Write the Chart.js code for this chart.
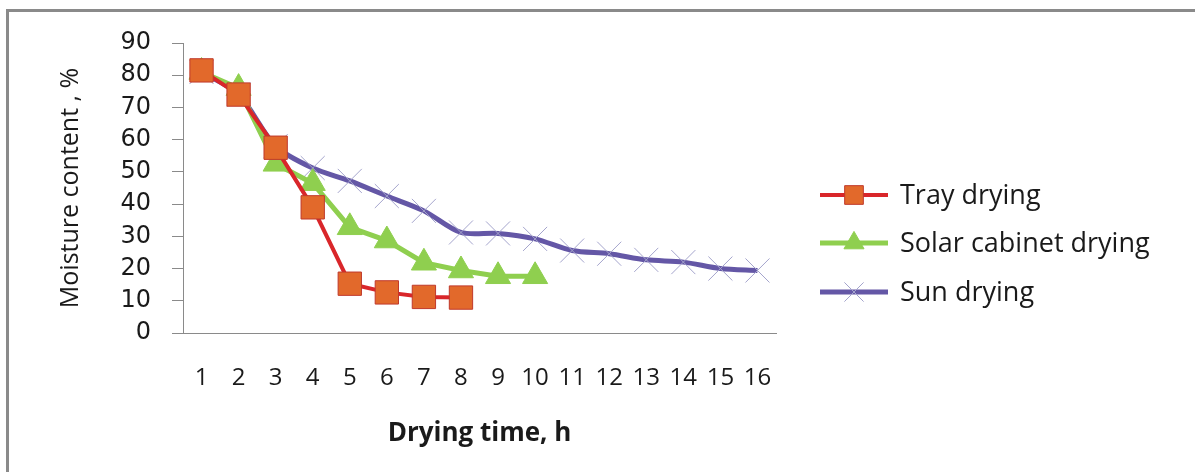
<!DOCTYPE html>
<html>
<head>
<meta charset="utf-8">
<script src="https://cdn.jsdelivr.net/npm/chart.js@4.4.1/dist/chart.umd.min.js"></script>
<style>
  html, body { margin: 0; padding: 0; background: #fff; overflow: hidden; }
  /* cadre gris (seuls les bords haut et gauche sont visibles) */
  #cadre { position: absolute; left: 6px; top: 9px; width: 1300px; height: 600px;
           border-left: 3px solid #8a8a8a; border-top: 3px solid #8a8a8a; }
  #zone { position: absolute; left: 0; top: 0; width: 1195px; height: 472px; }
</style>
</head>
<body>
<div id="cadre"></div>
<div id="zone"><canvas id="graphe" width="1195" height="472"></canvas></div>
<script>
// Données
const heures = ['1', '2', '3', '4', '5', '6', '7', '8', '9', '10', '11', '12', '13', '14', '15', '16'];
const trayDrying = [81.5, 74, 57.5, 39, 15.3, 12.6, 11.2, 11];
const solarDrying = [81, 76, 52.5, 46.5, 32.8, 28.7, 21.8, 19.4, 17.6, 17.6];
const sunDrying = [81, 74, 58, 51.2, 47.2, 42.5, 37.9, 31.2, 30.9, 29.2, 25.6, 24.6, 22.7, 22, 20, 19.4];
const ticksY = [0, 10, 20, 30, 40, 50, 60, 70, 80, 90];

// Légende dessinée à la main : trait + marqueur comme dans Excel
const legendeExcel = {
    id: 'legendeExcel',
    afterDraw(chart) {
        const ctx = chart.ctx;
        const x0 = chart.chartArea.right + 44;
        const rows = [195, 243, 292];
        chart.data.datasets.forEach(function(ds, i) {
            const y = rows[i];
            ctx.save();
            ctx.strokeStyle = ds.borderColor;
            ctx.lineWidth = ds.borderWidth;
            ctx.beginPath();
            ctx.moveTo(x0, y);
            ctx.lineTo(x0 + 68, y);
            ctx.stroke();
            ctx.fillStyle = ds.pointBackgroundColor;
            ctx.strokeStyle = ds.pointBorderColor;
            ctx.lineWidth = ds.pointBorderWidth;
            Chart.helpers.drawPoint(ctx, {
                pointStyle: ds.pointStyle,
                radius: ds.pointRadius * 0.8,
                rotation: 0,
                borderWidth: ds.pointBorderWidth
            }, x0 + 34, y);
            ctx.fillStyle = '#1a1a1a';
            ctx.font = "27px 'Open Sans', sans-serif";
            ctx.textBaseline = 'middle';
            ctx.textAlign = 'left';
            ctx.fillText(ds.label, x0 + 80, y + 1);
            ctx.restore();
        });
    }
};

const config = {
    type: 'line',
    data: {
        labels: heures,
        datasets: [{
            label: 'Tray drying',
            data: trayDrying,
            borderColor: '#d9262a',
            borderWidth: 4,
            pointStyle: 'rect',
            pointRadius: 16.5,
            pointBackgroundColor: '#e2692b',
            pointBorderColor: '#c0392b',
            pointBorderWidth: 1,
            tension: 0
        }, {
            label: 'Solar cabinet drying',
            data: solarDrying,
            borderColor: '#8fcf4f',
            borderWidth: 5,
            pointStyle: 'triangle',
            pointRadius: 14.5,
            pointBackgroundColor: '#8fcf4f',
            pointBorderColor: '#8fcf4f',
            pointBorderWidth: 1,
            tension: 0
        }, {
            label: 'Sun drying',
            data: sunDrying,
            borderColor: '#6457a6',
            borderWidth: 5,
            pointStyle: 'crossRot',
            pointRadius: 17,
            pointBackgroundColor: '#a4a4cc',
            pointBorderColor: '#a4a4cc',
            pointBorderWidth: 1,
            tension: 0.3
        }]
    },
    options: {
        responsive: false,
        devicePixelRatio: 1,
        animation: false,
        layout: { padding: { top: 43, right: 419, left: 0, bottom: 0 } },
        scales: {
            x: {
                offset: true,
                afterFit: function(s) { s.height = 139; },
                grid: { display: true, drawOnChartArea: false, drawTicks: false, offset: true },
                border: { display: true, color: '#8a8a8a', width: 1 },
                ticks: {
                    autoSkip: false, maxRotation: 0, padding: 31,
                    color: '#1a1a1a',
                    font: { size: 24, family: "'Open Sans', sans-serif" }
                },
                title: {
                    display: true,
                    text: 'Drying time, h',
                    color: '#1a1a1a',
                    font: { size: 26, weight: 'bold', family: "'Open Sans', sans-serif" },
                    padding: { top: 0, bottom: 23 }
                }
            },
            y: {
                min: 0,
                max: 90,
                afterFit: function(s) { s.width = 183; },
                afterBuildTicks: function(s) { s.ticks = ticksY.map(v => ({ value: v })); },
                grid: { drawOnChartArea: false, drawTicks: true, tickLength: 11, color: '#8a8a8a' },
                border: { display: true, color: '#8a8a8a', width: 1 },
                ticks: {
                    autoSkip: false,
                    padding: 21,
                    color: '#1a1a1a',
                    font: { size: 24, family: "'DejaVu Sans', sans-serif", lineHeight: 1 }
                },
                title: {
                    display: true,
                    text: 'Moisture content , %',
                    color: '#1a1a1a',
                    font: { size: 25, family: "'Open Sans', sans-serif" },
                    padding: { top: 56, bottom: 0 }
                }
            }
        },
        plugins: {
            legend: { display: false },
            tooltip: { enabled: false }
        }
    },
    plugins: [legendeExcel]
};

new Chart(document.getElementById('graphe').getContext('2d'), config);
</script>
</body>
</html>
